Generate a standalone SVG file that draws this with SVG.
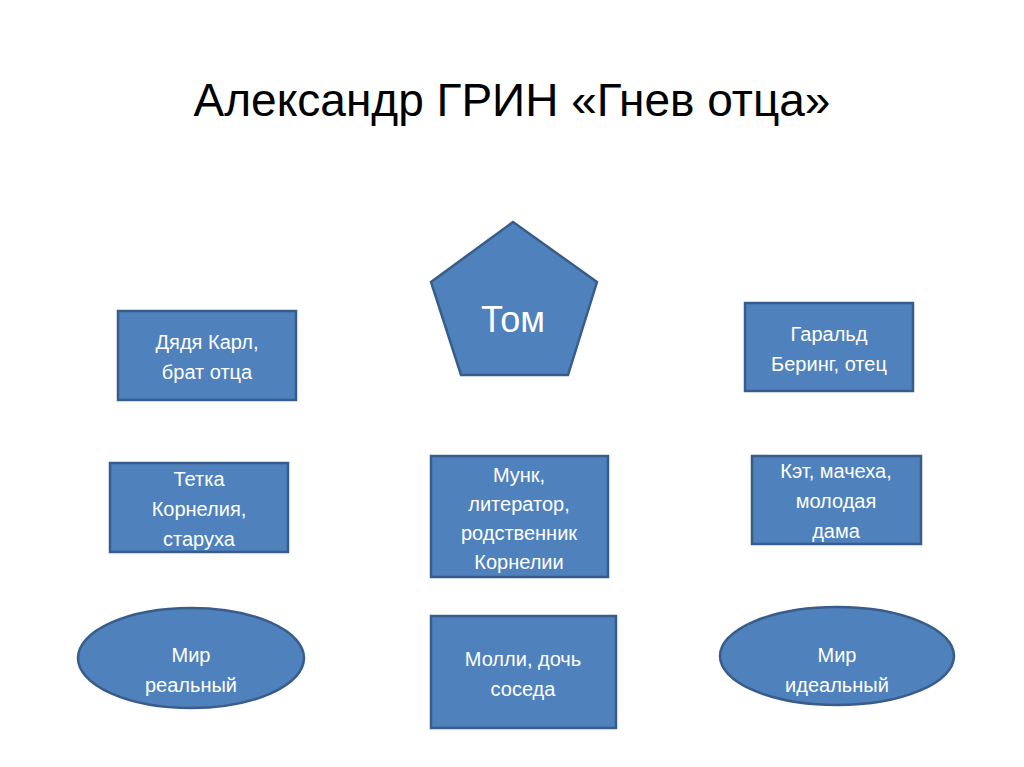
<svg xmlns="http://www.w3.org/2000/svg" width="1024" height="767" viewBox="0 0 1024 767">
<style>
.n{fill:#4f81bd;stroke:#385d8a;stroke-width:2.5}
.t{font-family:"Liberation Sans",Arial,sans-serif;font-size:20px;fill:#fff;text-anchor:middle}
.h{font-family:"Liberation Sans",Arial,sans-serif;font-size:46px;fill:#000;text-anchor:middle}
</style>
<rect width="1024" height="767" fill="#fff"/>
<text class="h" x="512" y="116">Александр ГРИН «Гнев отца»</text>
<g id="connectors"/>
<g id="tom"><polygon class="n" points="513,222 597,282 568,375 461,375 431,282"/><text class="t" x="513" y="332" style="font-size:36px">Том</text></g>
<g id="karl"><rect class="n" x="118" y="311" width="178" height="89"/><text class="t" x="207" y="349">Дядя Карл,</text><text class="t" x="207" y="379">брат отца</text></g>
<g id="harald"><rect class="n" x="745" y="303" width="168" height="88"/><text class="t" x="829" y="341">Гаральд</text><text class="t" x="829" y="371">Беринг, отец</text></g>
<g id="kornelia"><rect class="n" x="110" y="463" width="178" height="89"/><text class="t" x="199" y="486">Тетка</text><text class="t" x="199" y="516">Корнелия,</text><text class="t" x="199" y="546">старуха</text></g>
<g id="munk"><rect class="n" x="431" y="456" width="177" height="121"/><text class="t" x="519" y="482">Мунк,</text><text class="t" x="519" y="511">литератор,</text><text class="t" x="519" y="540">родственник</text><text class="t" x="519" y="569">Корнелии</text></g>
<g id="ket"><rect class="n" x="752" y="456" width="169" height="88"/><text class="t" x="836" y="478">Кэт, мачеха,</text><text class="t" x="836" y="508">молодая</text><text class="t" x="836" y="538">дама</text></g>
<g id="real"><ellipse class="n" cx="191" cy="658" rx="113" ry="50"/><text class="t" x="191" y="662">Мир</text><text class="t" x="191" y="692">реальный</text></g>
<g id="molly"><rect class="n" x="431" y="616" width="185" height="112"/><text class="t" x="523" y="666">Молли, дочь</text><text class="t" x="523" y="696">соседа</text></g>
<g id="ideal"><ellipse class="n" cx="837" cy="656" rx="117" ry="49"/><text class="t" x="837" y="662">Мир</text><text class="t" x="837" y="692">идеальный</text></g>
</svg>
